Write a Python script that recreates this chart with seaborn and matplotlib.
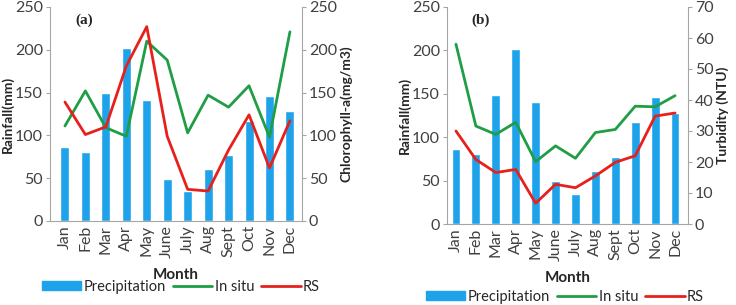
import seaborn as sns
import numpy as np
import matplotlib.pyplot as plt
from matplotlib.patches import Patch
from matplotlib.lines import Line2D

months = ["Jan", "Feb", "Mar", "Apr", "May", "June", "July", "Aug", "Sept", "Oct", "Nov", "Dec"]
rain = [86, 81, 149, 202, 141, 49, 35, 61, 77, 117, 146, 128]

# (a) chlorophyll-a
chl_insitu = [111, 152, 109, 99, 210, 188, 103, 147, 133, 158, 98, 221]
chl_rs = [139, 101, 110, 181, 227, 99, 37, 35, 83, 124, 62, 117]

# (b) turbidity
turb_insitu = [58, 31.6, 28.9, 32.8, 20.1, 25.2, 21.2, 29.5, 30.5, 38, 37.8, 41.4]
turb_rs = [30, 20.8, 16.6, 17.6, 6.7, 12.8, 11.7, 15.5, 19.9, 22, 34.8, 35.8]

sns.set_style("white")
plt.rcParams['font.family'] = ['Lato', 'DejaVu Sans']

BLUE = "#1ea3ea"
GREEN = "#1f9e45"
RED = "#e8201c"
GREY = "#a6a6a6"
TXT = "#404040"

W, H = 736, 305
fig = plt.figure(figsize=(7.36, 3.05), dpi=100)


def panel(box, xlim, insitu, rs, rmax, rticks, rlabel, tag, month_y, leg_xy):
    # box: left, top, right, bottom in pixels
    l, t, r, b = box
    ax = fig.add_axes([l / W, 1 - b / H, (r - l) / W, (b - t) / H])

    def to_ax(px, py):
        return (px - l) / (r - l), (b - py) / (b - t)

    x = np.arange(len(months))
    sns.barplot(x=months, y=rain, color=BLUE, width=0.44, saturation=1, ax=ax)
    ax.set_ylim(0, 250)
    ax.set_yticks(range(0, 251, 50))
    ax.set_xlim(*xlim)
    ax.set_ylabel("Rainfall(mm)", fontsize=10, fontweight="bold", labelpad=1)
    ax.set_xlabel("Month", fontsize=11, fontweight="bold")
    ax.xaxis.set_label_coords(*to_ax((l + r) / 2, month_y))
    ax.tick_params(axis="x", rotation=90, labelsize=11.5, length=0, pad=3, labelcolor=TXT)
    ax.tick_params(axis="y", labelsize=11.5, length=3, color=GREY, left=True, pad=2, labelcolor=TXT)
    for s in ["top", "right"]:
        ax.spines[s].set_visible(False)
    for s in ["left", "bottom"]:
        ax.spines[s].set_color(GREY)

    ax2 = ax.twinx()
    sns.lineplot(x=x, y=insitu, color=GREEN, linewidth=2, ax=ax2)
    sns.lineplot(x=x, y=rs, color=RED, linewidth=2, ax=ax2)
    ax2.set_ylim(0, rmax)
    ax2.set_yticks(rticks)
    ax2.set_ylabel(rlabel, fontsize=10, fontweight="bold", labelpad=2)
    ax2.tick_params(axis="y", labelsize=11.5, length=3, color=GREY, right=True, pad=2, labelcolor=TXT)
    for s in ["top", "left", "bottom"]:
        ax2.spines[s].set_visible(False)
    ax2.spines["right"].set_color(GREY)
    ax2.set_xlim(*xlim)

    ax.text(0.1, 0.94, tag, transform=ax.transAxes, fontsize=11, fontweight="bold",
            fontfamily="Liberation Serif", va="center")

    handles = [Patch(color=BLUE), Line2D([], [], color=GREEN, lw=2), Line2D([], [], color=RED, lw=2)]
    ax2.legend(handles, ["Precipitation", "In situ", "RS"], loc="center",
               bbox_to_anchor=to_ax(*leg_xy), bbox_transform=ax2.transAxes,
               ncol=3, frameon=False, fontsize=10.5, handlelength=2.7, handleheight=0.6,
               handletextpad=0.15, columnspacing=0.5, borderpad=0, borderaxespad=0)


panel((50, 7, 302, 221), (-0.73, 11.59), chl_insitu, chl_rs, 250, range(0, 251, 50),
      "Chlorophyll-a(mg/m3)", "(a)", 268, (181, 287))
panel((447, 7, 688, 224), (-0.45, 11.65), turb_insitu, turb_rs, 70, range(0, 71, 10),
      "Turbidity (NTU)", "(b)", 271, (565, 297))

fig.savefig("out.png", dpi=100)
